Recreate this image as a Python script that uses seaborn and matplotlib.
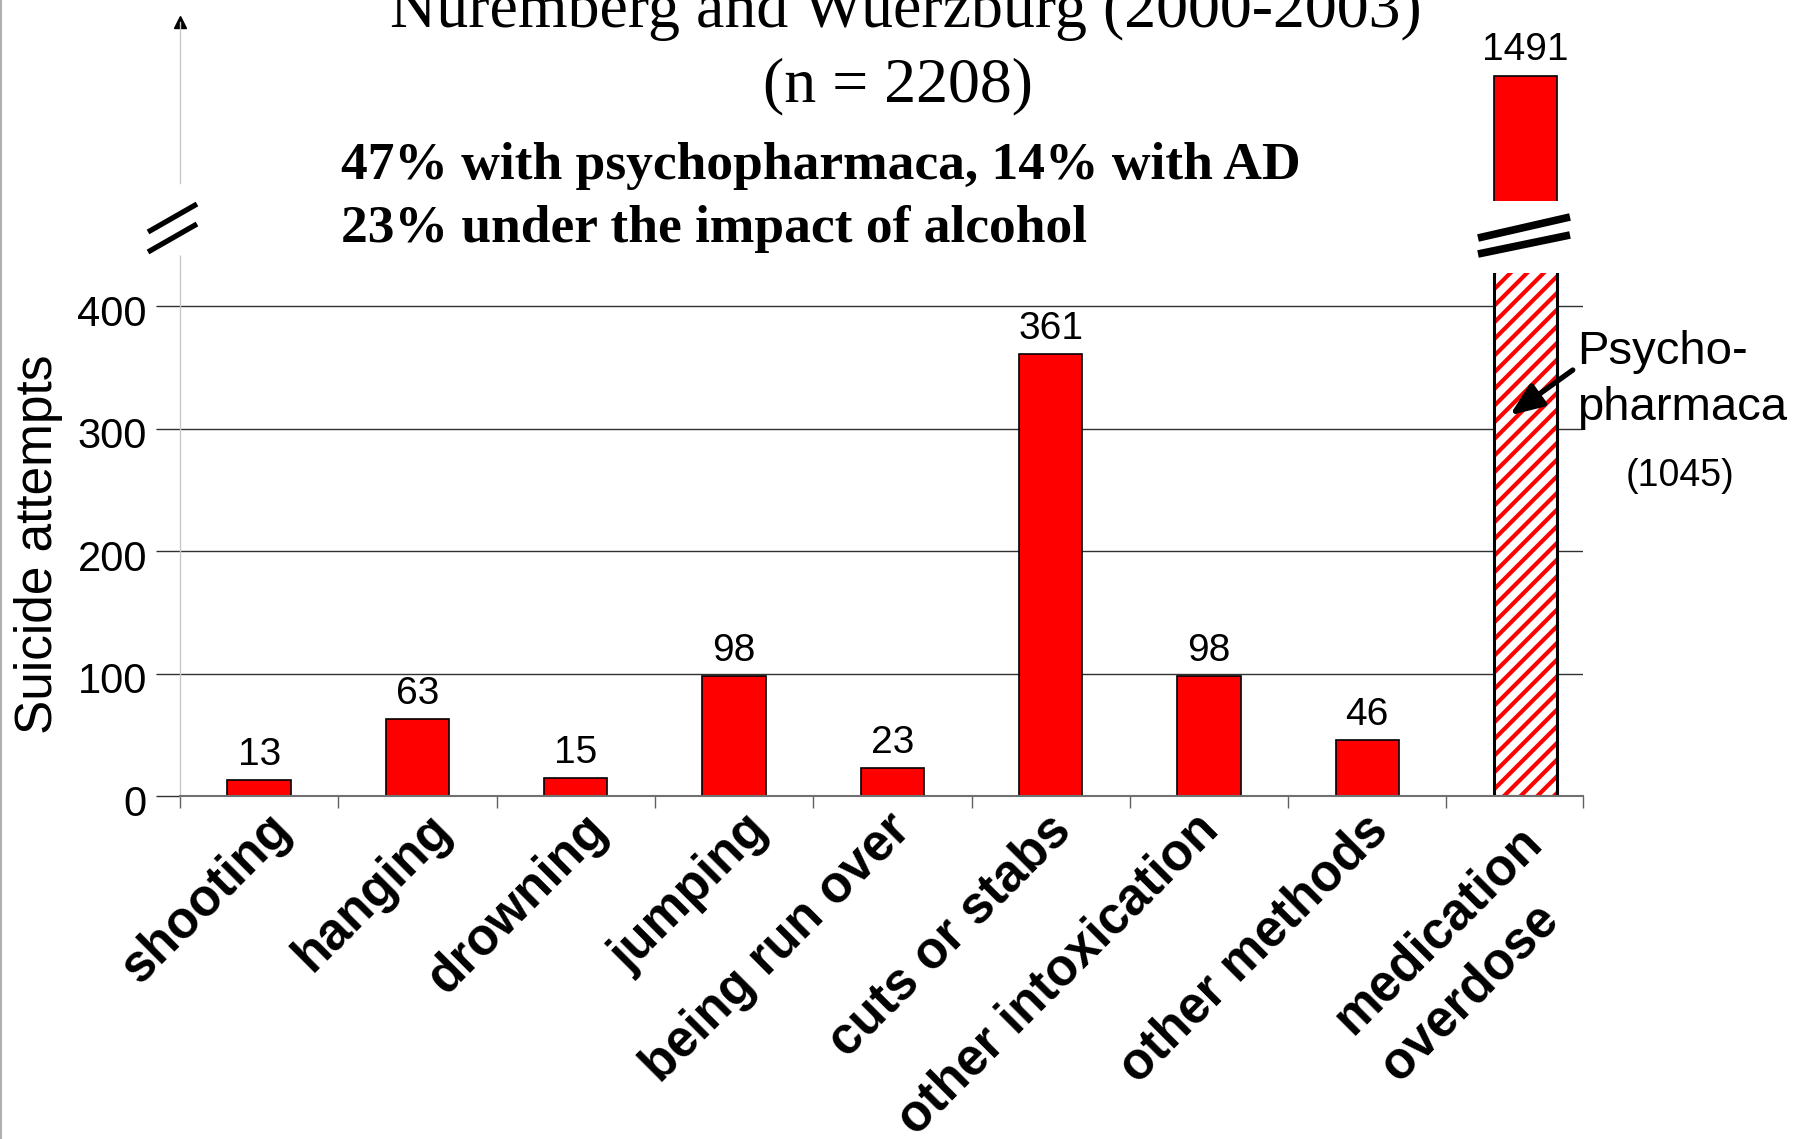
import numpy as np
import pandas as pd
import matplotlib
matplotlib.use("Agg")
import matplotlib.pyplot as plt
from matplotlib.lines import Line2D
from matplotlib.patches import Rectangle, ArrowStyle
from matplotlib.transforms import ScaledTranslation
import seaborn as sns

# ---- data -------------------------------------------------------------
methods = ["shooting", "hanging", "drowning", "jumping", "being run over",
           "cuts or stabs", "other intoxication", "other methods",
           "medication\noverdose"]
attempts = [13, 63, 15, 98, 23, 361, 98, 46, 1491]
psychopharmaca = 1045
y_ticks = [0, 100, 200, 300, 400]
title_lines = ["Nuremberg and Wuerzburg (2000-2003)", "(n = 2208)"]
fact_lines = ["47% with psychopharmaca, 14% with AD",
              "23% under the impact of alcohol"]

# ---- style ------------------------------------------------------------
sns.set_theme(style="white")
plt.rcParams["font.family"] = ["Liberation Sans", "DejaVu Sans"]
plt.rcParams["hatch.linewidth"] = 3.0
RED = "#FF0000"
GRID = "#303030"
SERIF = ["Liberation Serif", "DejaVu Serif"]

W, H, DPI = 1798, 1139, 100
fig = plt.figure(figsize=(W / DPI, H / DPI), dpi=DPI)


def fx(px):
    return px / W


def fy(py):
    return 1 - py / H


def px_shift(dx, dy=0):
    return ScaledTranslation(dx / DPI, dy / DPI, fig.dpi_scale_trans)


# pixel layout of the two stacked panels
x_left, x_right = 180, 1582.6
base_px, low_top_px = 796, 273
px_per_unit = 1.224
low_top = (base_px - low_top_px) / px_per_unit
x_hi = len(methods) - 0.64

ax = fig.add_axes([fx(x_left), fy(base_px), fx(x_right) - fx(x_left),
                   (base_px - low_top_px) / H])

up_top_px, up_bot_px, bar_top_px = 22, 201, 76
peak = max(attempts)
up_lo = peak - (up_bot_px - bar_top_px) / px_per_unit
up_hi = peak + (bar_top_px - up_top_px) / px_per_unit
ax_up = fig.add_axes([fx(x_left), fy(up_bot_px), fx(x_right) - fx(x_left),
                      (up_bot_px - up_top_px) / H])

df = pd.DataFrame({"method": methods, "attempts": attempts})

for a in (ax, ax_up):
    sns.barplot(data=df, x="method", y="attempts", ax=a, color=RED,
                saturation=1, width=0.4, edgecolor="black", linewidth=1.2)
    a.set_xlim(-0.5, x_hi)
    a.set_xlabel("")
    a.set_ylabel("")

# ---- lower panel --------------------------------------------------------
ax.set_ylim(0, low_top)

# medication bar: hatched psychopharmaca share with black outline
med = ax.containers[0][-1]
med.set_facecolor("white")
med.set_edgecolor(RED)
med.set_linewidth(0)
med.set_hatch("//")
ax.add_patch(Rectangle((med.get_x(), med.get_y()), med.get_width(),
                       med.get_height(), fill=False, edgecolor="black",
                       linewidth=2.2, zorder=med.get_zorder() + 0.1))

low_labels = [f"{v}" if v <= low_top else "" for v in attempts]
ax.bar_label(ax.containers[0], labels=low_labels, padding=5, fontsize=28,
             color="black")

for s in ("top", "right"):
    ax.spines[s].set_visible(False)
ax.spines["left"].set_color("#c8c8c8")
ax.spines["left"].set_linewidth(1)
ax.spines["bottom"].set_color("#707070")
ax.spines["bottom"].set_linewidth(1.5)

ax.set_yticks(y_ticks)
ax.yaxis.grid(True, color=GRID, linewidth=1)
ax.xaxis.grid(False)
ax.set_axisbelow(True)
ax.tick_params(axis="y", left=True, length=17.3, width=1, color=GRID,
               pad=6.5, labelsize=30, labelcolor="black", direction="out")
for lbl in ax.get_yticklabels():
    lbl.set_transform(lbl.get_transform() + px_shift(0, -4))

ax.set_xticks(range(len(methods)))
ax.set_xticklabels(methods, rotation=45, ha="right", va="top",
                   multialignment="left", linespacing=1.45, fontsize=37,
                   fontweight="bold", color="black")
ax.tick_params(axis="x", which="major", length=0, pad=6.5, bottom=True)
bounds = list(np.arange(len(methods) - 1) + 0.5) + [-0.5, x_hi]
ax.set_xticks(bounds, minor=True)
ax.tick_params(axis="x", which="minor", bottom=True, length=8.6, width=1,
               color="#606060", direction="out")
labels = ax.get_xticklabels()
# longer rotated labels sit a little further left of their tick
for lbl in labels[:-1]:
    n_chars = len(lbl.get_text())
    lbl.set_transform(lbl.get_transform() + px_shift(59 - 2.2 * n_chars))
labels[-1].set_transform(labels[-1].get_transform() + px_shift(73, -12))

ax.set_ylabel("Suicide attempts", fontsize=37, color="black")
ax.yaxis.set_label_coords((63 - x_left) / (x_right - x_left),
                          (base_px - 544) / (base_px - low_top_px))

# psychopharmaca annotation
arrow = ArrowStyle("-|>", head_length=0.8, head_width=0.32)
ax.annotate("", xy=(len(methods) - 1.1, 311),
            xytext=(0.993, 0.8145), textcoords="axes fraction",
            arrowprops=dict(arrowstyle=arrow, mutation_scale=25, lw=3.8,
                            color="black", shrinkA=0, shrinkB=0),
            annotation_clip=False)
ax.text(0.996, 0.826, "Psycho-", transform=ax.transAxes, fontsize=34,
        ha="left", va="baseline", color="black")
ax.text(0.996, 0.719, "pharmaca", transform=ax.transAxes, fontsize=34,
        ha="left", va="baseline", color="black")
ax.text(1.0695, 0.593, f"({psychopharmaca})", transform=ax.transAxes,
        fontsize=27, ha="center", va="baseline", color="black")

# ---- upper panel (broken axis) -----------------------------------------
ax_up.set_ylim(up_lo, up_hi)
ax_up.set_facecolor("none")
for s in ("top", "right", "bottom"):
    ax_up.spines[s].set_visible(False)
ax_up.spines["left"].set_color("#c8c8c8")
ax_up.spines["left"].set_linewidth(1)
ax_up.spines["left"].set_bounds(up_lo + (up_bot_px - 183) / px_per_unit, up_hi)
ax_up.set_xticks([])
ax_up.set_yticks([])
up_labels = [f"{v}" if v > low_top else "" for v in attempts]
ax_up.bar_label(ax_up.containers[0], labels=up_labels, padding=6,
                fontsize=28, color="black")
ax_up.plot([0], [1], marker="^", ms=8, color="black",
           transform=ax_up.transAxes, clip_on=False)

# ---- break marks, spine joint and frame -------------------------------
def seg(p0, p1, lw, color="black"):
    fig.add_artist(Line2D([fx(p0[0]), fx(p1[0])], [fy(p0[1]), fy(p1[1])],
                          color=color, linewidth=lw, solid_capstyle="butt"))


seg((x_left, 255), (x_left, low_top_px), 1, "#c8c8c8")
seg((148, 232), (197, 204), 3.8)
seg((148, 252), (197, 224), 3.8)
seg((1478, 238), (1570, 217), 5.5)
seg((1478, 254), (1570, 235), 5.5)
fig.add_artist(Line2D([0.0008, 0.0008], [0, 1], color="#b0b0b0",
                      linewidth=1.5))

# ---- titles -------------------------------------------------------------
fig.text(fx(906), fy(27), title_lines[0], ha="center", va="baseline",
         fontsize=46, family=SERIF, color="black")
fig.text(fx(898), fy(101), title_lines[1], ha="center", va="baseline",
         fontsize=46, family=SERIF, color="black")
fig.text(fx(341), fy(179), fact_lines[0], ha="left", va="baseline",
         fontsize=38.5, fontweight="bold", family=SERIF, color="black")
fig.text(fx(341), fy(242), fact_lines[1], ha="left", va="baseline",
         fontsize=38.5, fontweight="bold", family=SERIF, color="black")

fig.savefig("out.png", dpi=DPI, facecolor="white")
